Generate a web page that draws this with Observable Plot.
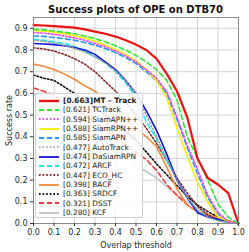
<!DOCTYPE html>
<html><head><meta charset="utf-8">
<script src="https://cdn.jsdelivr.net/npm/d3@7"></script>
<script src="https://cdn.jsdelivr.net/npm/@observablehq/plot@0.6"></script>
<style>
body{margin:0;background:#fff;font-family:"DejaVu Sans",sans-serif;}
#wrap{position:relative;width:249px;height:252px;overflow:hidden;background:#fff}
#title{position:absolute;left:33px;width:205px;top:4px;text-align:center;font-weight:bold;font-size:10px;line-height:12px;color:#111;white-space:nowrap}
#chart{position:absolute;left:0;top:15px}
#legend{position:absolute;left:35px;top:93px;width:108px;height:125px;background:rgba(255,255,255,0.85);border:1px solid #d0d0d0;border-radius:2px;box-sizing:border-box;padding-top:2px}
.row{height:9.33px;display:flex;align-items:center;font-size:7.4px;color:#222;white-space:nowrap}
.row svg{margin-left:3px;margin-right:4px;flex:none}
</style></head>
<body>
<div id="wrap">
<div id="title">Success plots of OPE on DTB70</div>
<div id="chart"></div>
<div id="legend"></div>
</div>
<script>
const thresholds = [0,0.05,0.1,0.15,0.2,0.25,0.3,0.35,0.4,0.45,0.5,0.55,0.6,0.65,0.7,0.75,0.8,0.85,0.9,0.95,1];
const xTicks = [0,0.1,0.2,0.3,0.4,0.5,0.6,0.7,0.8,0.9,1.0];
const yTicks = [0,0.1,0.2,0.3,0.4,0.5,0.6,0.7,0.8,0.9];
const trackers = ["MT – Track","TCTrack","SiamAPN++","SiamRPN++","SiamAPN","AutoTrack","DaSiamRPN","ARCF","ECO_HC","BACF","SRDCF","DSST","KCF"];
const aucs = [0.663,0.621,0.594,0.588,0.585,0.477,0.474,0.472,0.447,0.398,0.363,0.321,0.280];
const mtTrack   = [0.915,0.913,0.91,0.907,0.903,0.895,0.885,0.875,0.862,0.845,0.825,0.8,0.76,0.69,0.61,0.49,0.3,0.21,0.18,0.14,0];
const tcTrack   = [0.895,0.893,0.888,0.882,0.875,0.865,0.852,0.838,0.82,0.8,0.775,0.745,0.71,0.66,0.57,0.4,0.3,0.2,0.09,0.03,0];
const siamAPNpp = [0.88,0.878,0.872,0.865,0.856,0.845,0.83,0.815,0.795,0.772,0.745,0.71,0.67,0.61,0.49,0.36,0.25,0.13,0.05,0.01,0];
const siamRPNpp = [0.89,0.888,0.882,0.875,0.866,0.855,0.84,0.823,0.803,0.78,0.75,0.71,0.66,0.58,0.44,0.31,0.19,0.1,0.03,0.01,0];
const siamAPN   = [0.865,0.863,0.858,0.852,0.845,0.835,0.822,0.807,0.788,0.765,0.738,0.7,0.66,0.6,0.48,0.35,0.23,0.12,0.045,0.01,0];
const autoTrack = [0.845,0.84,0.832,0.822,0.808,0.79,0.768,0.74,0.705,0.66,0.6,0.5,0.4,0.3,0.2,0.12,0.06,0.03,0.012,0.004,0];
const daSiamRPN = [0.83,0.828,0.825,0.82,0.812,0.8,0.78,0.745,0.71,0.66,0.6,0.52,0.43,0.32,0.2,0.12,0.05,0.03,0.02,0.01,0];
const arcf      = [0.85,0.845,0.838,0.83,0.815,0.795,0.77,0.74,0.7,0.65,0.58,0.47,0.39,0.29,0.2,0.12,0.06,0.03,0.015,0.005,0];
const ecoHC     = [0.81,0.805,0.795,0.78,0.76,0.735,0.7,0.655,0.61,0.56,0.5,0.44,0.37,0.29,0.21,0.14,0.08,0.04,0.015,0.005,0];
const bacf      = [0.735,0.725,0.71,0.69,0.665,0.635,0.61,0.57,0.52,0.48,0.44,0.4,0.355,0.26,0.16,0.085,0.055,0.04,0.025,0.012,0];
const srdcf     = [0.685,0.67,0.66,0.63,0.6,0.57,0.535,0.5,0.465,0.425,0.385,0.33,0.275,0.225,0.175,0.125,0.085,0.055,0.03,0.012,0];
const dsst      = [0.625,0.61,0.59,0.565,0.535,0.5,0.465,0.43,0.395,0.36,0.33,0.295,0.245,0.18,0.13,0.085,0.055,0.035,0.02,0.008,0];
const kcf       = [0.595,0.575,0.55,0.52,0.485,0.45,0.415,0.375,0.34,0.305,0.27,0.24,0.21,0.17,0.13,0.1,0.07,0.045,0.028,0.012,0];
const seriesValues = [mtTrack,tcTrack,siamAPNpp,siamRPNpp,siamAPN,autoTrack,daSiamRPN,arcf,ecoHC,bacf,srdcf,dsst,kcf];

// styles (kept separate from data)
const styles = [
  {color:"#ee1111", width:2.2, dash:null},
  {color:"#33e833", width:1.6, dash:"5,3"},
  {color:"#e64ce6", width:1.6, dash:"1.6,2"},
  {color:"#f5ee00", width:1.6, dash:null},
  {color:"#2a9ae8", width:1.6, dash:"5,3"},
  {color:"#9a9a9a", width:1.4, dash:"1.6,2"},
  {color:"#1414d8", width:1.6, dash:null},
  {color:"#18e8e8", width:1.6, dash:"5,3"},
  {color:"#8a2a2a", width:1.6, dash:"1.6,2"},
  {color:"#f08a3c", width:1.6, dash:null},
  {color:"#111111", width:1.6, dash:"1.6,2"},
  {color:"#f03a3a", width:1.6, dash:"5,3"},
  {color:"#c8c8c8", width:1.8, dash:null}
];

const lineMarks = [];
for (let k = trackers.length - 1; k >= 0; k--) {
  const rows = thresholds.map((t, i) => ({t, v: seriesValues[k][i]}));
  const s = styles[k];
  lineMarks.push(Plot.line(rows, {x:"t", y:"v", stroke:s.color, strokeWidth:s.width, strokeDasharray:s.dash || undefined}));
}

const chart = Plot.plot({
  width:249, height:237,
  marginLeft:33, marginRight:11, marginTop:2, marginBottom:29,
  style:{fontFamily:"DejaVu Sans", fontSize:"8px", color:"#262626", background:"transparent"},
  x:{domain:[0,1]},
  y:{domain:[0,0.95]},
  marks:[
    Plot.gridX(xTicks, {stroke:"#cfcfcf", strokeOpacity:1, strokeWidth:0.9}),
    Plot.gridY(yTicks, {stroke:"#cfcfcf", strokeOpacity:1, strokeWidth:0.9}),
    ...lineMarks,
    Plot.frame({stroke:"#8c8c8c", strokeWidth:1}),
    Plot.axisX(xTicks, {tickFormat:d3.format(".1f"), tickSize:3, tickPadding:3, label:"Overlap threshold", labelAnchor:"center", labelArrow:"none", labelOffset:24, stroke:"#333"}),
    Plot.axisY(yTicks, {tickFormat:d3.format(".1f"), tickSize:3, tickPadding:3, label:"Success rate", labelAnchor:"center", labelArrow:"none", labelOffset:27, stroke:"#333"})
  ]
});
document.getElementById("chart").appendChild(chart);

const legend = d3.select("#legend");
trackers.forEach((name, k) => {
  const s = styles[k];
  const row = legend.append("div").attr("class","row");
  const svg = row.append("svg").attr("width",20).attr("height",6);
  svg.append("line").attr("x1",0).attr("x2",20).attr("y1",3).attr("y2",3)
    .attr("stroke",s.color).attr("stroke-width",s.width + 0.2)
    .attr("stroke-dasharray", s.dash);
  row.append("span").style("font-weight", k === 0 ? "bold" : "normal")
    .text(k === 0 ? `[${aucs[k].toFixed(3)}]${name}` : `[${aucs[k].toFixed(3)}] ${name}`);
});
</script>
</body></html>
